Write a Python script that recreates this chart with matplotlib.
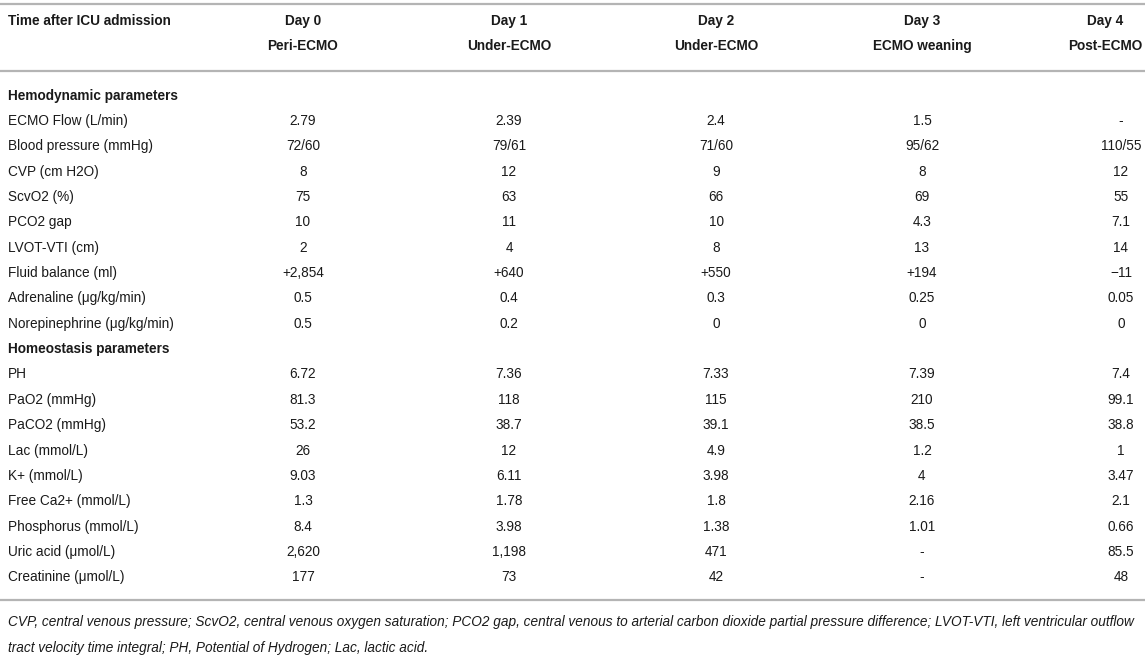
import matplotlib
matplotlib.use("Agg")
import matplotlib.pyplot as plt

plt.rcParams['font.family'] = ['Liberation Sans', 'DejaVu Sans']

# header
col_title = "Time after ICU admission"
days = ["Day 0", "Day 1", "Day 2", "Day 3", "Day 4"]
phases = ["Peri-ECMO", "Under-ECMO", "Under-ECMO", "ECMO weaning", "Post-ECMO"]

# table body, one list per column
sections = ["Hemodynamic parameters", "Homeostasis parameters"]
hemo_labels = ["ECMO Flow (L/min)", "Blood pressure (mmHg)", "CVP (cm H2O)", "ScvO2 (%)",
               "PCO2 gap", "LVOT-VTI (cm)", "Fluid balance (ml)",
               "Adrenaline (\u03bcg/kg/min)", "Norepinephrine (\u03bcg/kg/min)"]
homeo_labels = ["PH", "PaO2 (mmHg)", "PaCO2 (mmHg)", "Lac (mmol/L)", "K+ (mmol/L)",
                "Free Ca2+ (mmol/L)", "Phosphorus (mmol/L)", "Uric acid (\u03bcmol/L)",
                "Creatinine (\u03bcmol/L)"]

hemo_day0 = ["2.79", "72/60", "8", "75", "10", "2", "+2,854", "0.5", "0.5"]
hemo_day1 = ["2.39", "79/61", "12", "63", "11", "4", "+640", "0.4", "0.2"]
hemo_day2 = ["2.4", "71/60", "9", "66", "10", "8", "+550", "0.3", "0"]
hemo_day3 = ["1.5", "95/62", "8", "69", "4.3", "13", "+194", "0.25", "0"]
hemo_day4 = ["-", "110/55", "12", "55", "7.1", "14", "\u221211", "0.05", "0"]

homeo_day0 = ["6.72", "81.3", "53.2", "26", "9.03", "1.3", "8.4", "2,620", "177"]
homeo_day1 = ["7.36", "118", "38.7", "12", "6.11", "1.78", "3.98", "1,198", "73"]
homeo_day2 = ["7.33", "115", "39.1", "4.9", "3.98", "1.8", "1.38", "471", "42"]
homeo_day3 = ["7.39", "210", "38.5", "1.2", "4", "2.16", "1.01", "-", "-"]
homeo_day4 = ["7.4", "99.1", "38.8", "1", "3.47", "2.1", "0.66", "85.5", "48"]

footnote = ["CVP, central venous pressure; ScvO2, central venous oxygen saturation; "
            "PCO2 gap, central venous to arterial carbon dioxide partial pressure difference; "
            "LVOT-VTI, left ventricular outflow",
            "tract velocity time integral; PH, Potential of Hydrogen; Lac, lactic acid."]

# layout in pixel units
W, H = 1145, 666
x_label = 8
x_head = [303, 509, 716, 922, 1105]
x_val = [303, 509, 716, 922, 1121]
row_h = 25.35
fs = 9.8
base = 4.6  # baseline offset below row centre
ink = "#1a1a1a"
rule = "#b4b4b4"

fig = plt.figure(figsize=(W / 100, H / 100), dpi=100)
ax = fig.add_axes([0, 0, 1, 1])
ax.set_xlim(0, W)
ax.set_ylim(H, 0)
ax.axis("off")


def put(x, y, s, ha="left", **kw):
    ax.text(x, y + base, s, fontsize=fs, color=ink, va="baseline", ha=ha, **kw)


# rules
for y in [4, 71, 600]:
    ax.plot([0, W], [y, y], color=rule, lw=1.6, solid_capstyle="butt")

# header rows
put(x_label, 20, col_title, fontweight="bold")
for x, d, p in zip(x_head, days, phases):
    put(x, 20, d, ha="center", fontweight="bold")
    put(x, 45.5, p, ha="center", fontweight="bold")

# body
blocks = [
    (sections[0], hemo_labels, [hemo_day0, hemo_day1, hemo_day2, hemo_day3, hemo_day4]),
    (sections[1], homeo_labels, [homeo_day0, homeo_day1, homeo_day2, homeo_day3, homeo_day4]),
]
y = 95
for title, labels, cols in blocks:
    put(x_label, y, title, fontweight="bold")
    y += row_h
    for i, lab in enumerate(labels):
        put(x_label, y, lab)
        for x, col in zip(x_val, cols):
            put(x, y, col[i], ha="center")
        y += row_h

# footnote
for k, line in enumerate(footnote):
    put(x_label, 621 + k * 26, line, style="italic")

fig.savefig("out.png", dpi=100)
